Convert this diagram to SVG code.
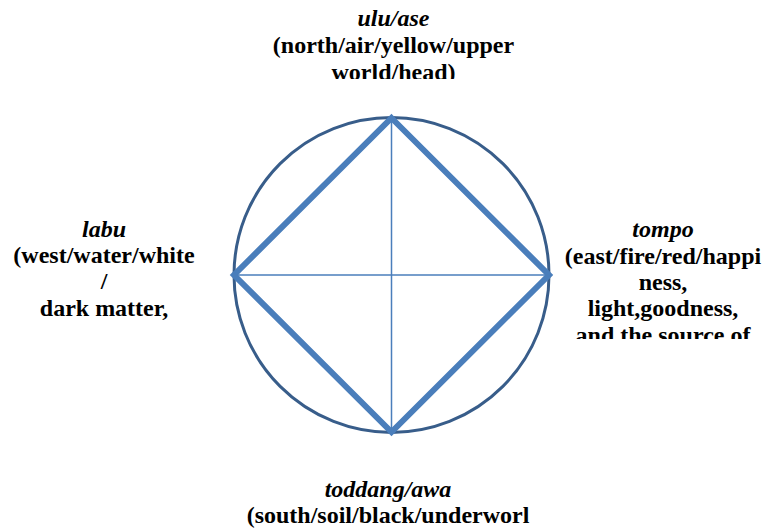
<svg xmlns="http://www.w3.org/2000/svg" width="768" height="530" viewBox="0 0 768 530">
<defs>
<clipPath id="cTop"><rect x="250" y="0" width="290" height="79"/></clipPath>
<clipPath id="cRight"><rect x="555" y="210" width="213" height="129"/></clipPath>
</defs>
<rect width="768" height="530" fill="#fff"/>
<g id="wheel">
<circle cx="391.5" cy="275" r="157.5" fill="none" stroke="#385d8a" stroke-width="3"/>
</g>
<g id="connectors" fill="none" stroke="#4a7ebb">
<line x1="391.5" y1="118" x2="391.5" y2="432" stroke-width="1.5"/>
<line x1="234" y1="275" x2="549" y2="275" stroke-width="1.5"/>
<polygon points="391.5,118 549,275 391.5,432 234,275" stroke-width="6"/>
</g>
<g id="north" clip-path="url(#cTop)">
<text x="393.5" y="26" font-family="Liberation Serif" style="font-family:'Liberation Serif','Times New Roman',serif" font-size="24" font-weight="bold" font-style="italic" text-anchor="middle">ulu/ase</text>
<text x="393.5" y="53" font-family="Liberation Serif" style="font-family:'Liberation Serif','Times New Roman',serif" font-size="24" font-weight="bold" text-anchor="middle">(north/air/yellow/upper</text>
<text x="393.5" y="80" font-family="Liberation Serif" style="font-family:'Liberation Serif','Times New Roman',serif" font-size="24" font-weight="bold" text-anchor="middle">world/head)</text>
</g>
<g id="west">
<text x="104" y="237" font-family="Liberation Serif" style="font-family:'Liberation Serif','Times New Roman',serif" font-size="24" font-weight="bold" font-style="italic" text-anchor="middle">labu</text>
<text x="104" y="263" font-family="Liberation Serif" style="font-family:'Liberation Serif','Times New Roman',serif" font-size="24" font-weight="bold" text-anchor="middle">(west/water/white</text>
<text x="104" y="289" font-family="Liberation Serif" style="font-family:'Liberation Serif','Times New Roman',serif" font-size="24" font-weight="bold" text-anchor="middle">/</text>
<text x="104" y="316" font-family="Liberation Serif" style="font-family:'Liberation Serif','Times New Roman',serif" font-size="24" font-weight="bold" text-anchor="middle">dark matter,</text>
</g>
<g id="east" clip-path="url(#cRight)">
<text x="663" y="237" font-family="Liberation Serif" style="font-family:'Liberation Serif','Times New Roman',serif" font-size="24" font-weight="bold" font-style="italic" text-anchor="middle">tompo</text>
<text x="663" y="264" font-family="Liberation Serif" style="font-family:'Liberation Serif','Times New Roman',serif" font-size="24" font-weight="bold" text-anchor="middle">(east/fire/red/happi</text>
<text x="663" y="290" font-family="Liberation Serif" style="font-family:'Liberation Serif','Times New Roman',serif" font-size="24" font-weight="bold" text-anchor="middle">ness,</text>
<text x="663" y="316" font-family="Liberation Serif" style="font-family:'Liberation Serif','Times New Roman',serif" font-size="24" font-weight="bold" text-anchor="middle">light,goodness,</text>
<text x="663" y="343" font-family="Liberation Serif" style="font-family:'Liberation Serif','Times New Roman',serif" font-size="24" font-weight="bold" text-anchor="middle">and the source of</text>
</g>
<g id="south">
<text x="388" y="497" font-family="Liberation Serif" style="font-family:'Liberation Serif','Times New Roman',serif" font-size="24" font-weight="bold" font-style="italic" text-anchor="middle">toddang/awa</text>
<text x="388" y="523" font-family="Liberation Serif" style="font-family:'Liberation Serif','Times New Roman',serif" font-size="24" font-weight="bold" text-anchor="middle">(south/soil/black/underworl</text>
</g>
</svg>
